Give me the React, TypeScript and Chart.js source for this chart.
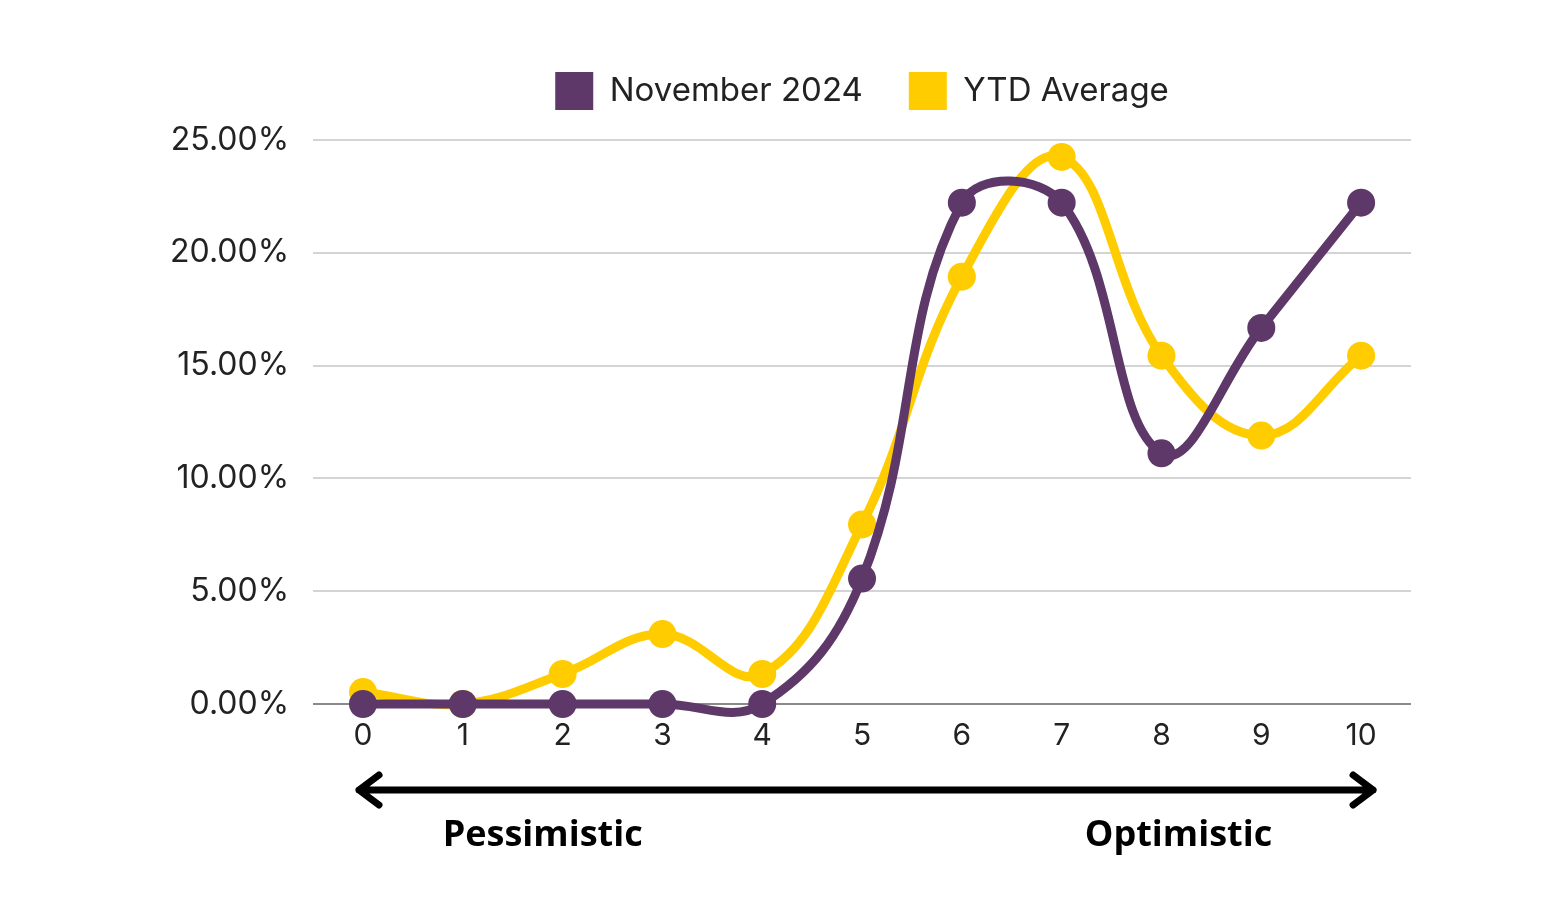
import { useEffect, useRef } from "react";
import Chart from "chart.js/auto";

const SCORES = ["0", "1", "2", "3", "4", "5", "6", "7", "8", "9", "10"];
const NOVEMBER_2024 = [0, 0, 0, 0, 0, 5.56, 22.22, 22.22, 11.11, 16.67, 22.22];
const YTD_AVERAGE = [0.53, 0, 1.33, 3.1, 1.33, 7.96, 18.94, 24.25, 15.44, 11.9, 15.44];
const Y_TICK_STEP = 5;
const Y_MAX = 25;

const PURPLE = "#5d3868";
const YELLOW = "#ffcc00";
const FONT = "Inter, 'Open Sans', sans-serif";

// extra room between legend and plot
const legendGap = {
  id: "legendGap",
  beforeInit(chart: any) {
    const legend = chart.legend;
    if (!legend) return;
    const fit = legend.fit;
    legend.fit = function () {
      fit.call(this);
      this.height += 20;
    };
  },
};

// arrow + Pessimistic / Optimistic captions under the x axis
const scaleArrow = {
  id: "scaleArrow",
  afterDraw(chart: any) {
    const { ctx, chartArea, scales } = chart;
    const x = scales.x;
    const left = x.getPixelForValue(0) - 4;
    const right = x.getPixelForValue(10) + 12;
    const y = chartArea.bottom + 86;
    ctx.save();
    ctx.strokeStyle = "#000";
    ctx.lineWidth = 7;
    ctx.lineCap = "round";
    ctx.lineJoin = "round";
    ctx.beginPath();
    ctx.moveTo(left, y);
    ctx.lineTo(right, y);
    ctx.moveTo(left + 20, y - 15);
    ctx.lineTo(left, y);
    ctx.lineTo(left + 20, y + 15);
    ctx.moveTo(right - 20, y - 15);
    ctx.lineTo(right, y);
    ctx.lineTo(right - 20, y + 15);
    ctx.stroke();

    ctx.fillStyle = "#000";
    ctx.font = "bold 36px 'Open Sans', sans-serif";
    ctx.textAlign = "center";
    ctx.textBaseline = "middle";
    ctx.fillText("Pessimistic", x.getPixelForValue(1.8), y + 46);
    ctx.fillText("Optimistic", x.getPixelForValue(8.17), y + 46);
    ctx.restore();
  },
};

export default function App() {
  const canvasRef = useRef<HTMLCanvasElement>(null);

  useEffect(() => {
    document.body.style.margin = "0";
    if (!canvasRef.current) return;
    const chart = new Chart(canvasRef.current, {
      type: "line",
      data: {
        labels: SCORES,
        datasets: [
          {
            label: "November 2024",
            data: NOVEMBER_2024,
            borderColor: PURPLE,
            backgroundColor: PURPLE,
            borderWidth: 9,
            pointRadius: 14,
            pointBorderWidth: 0,
            tension: 0.4,
            clip: false,
          },
          {
            label: "YTD Average",
            data: YTD_AVERAGE,
            borderColor: YELLOW,
            backgroundColor: YELLOW,
            borderWidth: 9,
            pointRadius: 14,
            pointBorderWidth: 0,
            tension: 0.4,
            clip: false,
          },
        ],
      },
      options: {
        animation: false,
        responsive: true,
        maintainAspectRatio: false,
        elements: { line: { capBezierPoints: false } },
        layout: { padding: { left: 146, right: 155, top: 26, bottom: 162 } },
        plugins: {
          tooltip: { enabled: false },
          legend: {
            position: "top",
            fullSize: false,
            labels: {
              color: "#222",
              font: { family: FONT, size: 33 },
              boxWidth: 38,
              boxHeight: 38,
              padding: 46,
              generateLabels: (c: any) =>
                c.data.datasets.map((ds: any, i: number) => ({
                  text: ds.label,
                  fillStyle: ds.borderColor,
                  strokeStyle: ds.borderColor,
                  lineWidth: 0,
                  datasetIndex: i,
                  hidden: !c.isDatasetVisible(i),
                  fontColor: "#222",
                })),
            },
          },
        },
        scales: {
          x: {
            offset: true,
            grid: { display: false },
            border: { display: false },
            ticks: { color: "#222", font: { family: FONT, size: 30 }, padding: 6 },
          },
          y: {
            min: 0,
            max: Y_MAX,
            border: { display: false },
            grid: {
              drawTicks: false,
              lineWidth: 2,
              color: (ctx: any) => (ctx.tick && ctx.tick.value === 0 ? "#8a8a8a" : "#d4d4d4"),
            },
            ticks: {
              stepSize: Y_TICK_STEP,
              color: "#222",
              padding: 24,
              font: { family: FONT, size: 32 },
              callback: (v: any) => Number(v).toFixed(2) + "%",
            },
          },
        },
      },
      plugins: [legendGap, scaleArrow],
    });
    return () => chart.destroy();
  }, []);

  return (
    <div style={{ position: "relative", width: 1566, height: 922, background: "#fff" }}>
      <canvas ref={canvasRef} />
    </div>
  );
}
